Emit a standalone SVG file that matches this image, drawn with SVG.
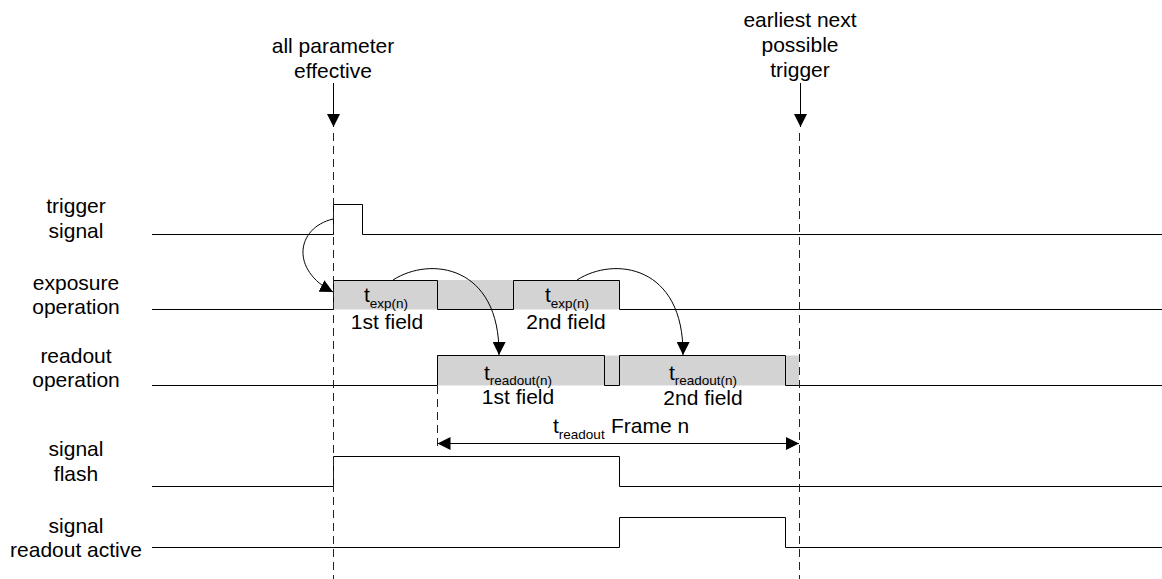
<svg xmlns="http://www.w3.org/2000/svg" width="1162" height="579" viewBox="0 0 1162 579">
<style>
text{font-family:"Liberation Sans",Arial,sans-serif;font-size:21px;fill:#000}
.lbl{text-anchor:middle}
.sub{font-size:13.5px}
.sig{fill:none;stroke:#000;stroke-width:1}
.dash{fill:none;stroke:#222;stroke-width:1;stroke-dasharray:8,5}
.arr{fill:none;stroke:#000;stroke-width:1}
.gray{fill:#d3d3d3;stroke:none}
</style>
<defs>
<marker id="ah" markerWidth="13" markerHeight="13" refX="13" refY="6.5" orient="auto" markerUnits="userSpaceOnUse">
<path d="M0,0 L13,6.5 L0,13 Z" fill="#000"/>
</marker>
<marker id="ahs" markerWidth="13" markerHeight="13" refX="0" refY="6.5" orient="auto" markerUnits="userSpaceOnUse">
<path d="M13,0 L0,6.5 L13,13 Z" fill="#000"/>
</marker>
</defs>

<g id="labels">
<text class="lbl" x="76" y="213">trigger</text>
<text class="lbl" x="76" y="238">signal</text>
<text class="lbl" x="76" y="290">exposure</text>
<text class="lbl" x="76" y="314">operation</text>
<text class="lbl" x="76" y="363">readout</text>
<text class="lbl" x="76" y="387">operation</text>
<text class="lbl" x="76" y="456">signal</text>
<text class="lbl" x="76" y="481">flash</text>
<text class="lbl" x="76" y="533">signal</text>
<text class="lbl" x="76" y="557">readout active</text>
</g>

<g id="top-all-parameter">
<text class="lbl" x="333" y="53">all parameter</text>
<text class="lbl" x="333" y="78">effective</text>
</g>
<g id="top-earliest">
<text class="lbl" x="800" y="27">earliest next</text>
<text class="lbl" x="800" y="52">possible</text>
<text class="lbl" x="800" y="77">trigger</text>
</g>

<g id="fills">
<rect class="gray" x="333" y="280" width="286" height="29.5"/>
<rect class="gray" x="437" y="355.5" width="362" height="30"/>
</g>

<g id="signals">
<path id="trigger" class="sig" d="M152,234.5 H333.5 V204.5 H362.5 V234.5 H1162"/>
<path id="exposure" class="sig" d="M152,309.5 H333.5 V280.5 H437.5 V309.5 H513.5 V280.5 H619.5 V309.5 H1162"/>
<path id="readout" class="sig" d="M152,385.5 H437.5 V355.5 H604.5 V385.5 H619.5 V355.5 H785.5 V385.5 H1162"/>
<path id="flash" class="sig" d="M152,486.5 H333.5 V456.5 H619.5 V486.5 H1162"/>
<path id="readout-active" class="sig" d="M152,547.5 H619.5 V517.5 H785.5 V547.5 H1162"/>
</g>

<g id="field-labels">
<text class="lbl" x="386" y="302">t<tspan class="sub" dy="6">exp(n)</tspan></text>
<text class="lbl" x="387" y="329">1st field</text>
<text class="lbl" x="567" y="302">t<tspan class="sub" dy="6">exp(n)</tspan></text>
<text class="lbl" x="566" y="329">2nd field</text>
<text class="lbl" x="518" y="380">t<tspan class="sub" dy="5">readout(n)</tspan></text>
<text class="lbl" x="518" y="404">1st field</text>
<text class="lbl" x="703" y="380">t<tspan class="sub" dy="5">readout(n)</tspan></text>
<text class="lbl" x="703" y="405">2nd field</text>
<text x="553" y="433">t<tspan class="sub" dy="6">readout</tspan></text>
<text x="611" y="433">Frame n</text>
</g>

<g id="connectors">
<line class="dash" x1="333.5" y1="133" x2="333.5" y2="579"/>
<line class="dash" x1="799.5" y1="133" x2="799.5" y2="579"/>
<line class="dash" x1="437.5" y1="386" x2="437.5" y2="450"/>
<line class="arr" x1="333.5" y1="83" x2="333.5" y2="127" marker-end="url(#ah)"/>
<line class="arr" x1="800.5" y1="83" x2="800.5" y2="127" marker-end="url(#ah)"/>
<line class="arr" x1="437.5" y1="443.5" x2="799" y2="443.5" marker-start="url(#ahs)" marker-end="url(#ah)"/>
<path class="arr" d="M333,219 C296,228 290,270 333,292" marker-end="url(#ah)"/>
<path class="arr" d="M393,280 C430,256 500,265 499,355" marker-end="url(#ah)"/>
<path class="arr" d="M577,280 C614,256 684,265 683,355" marker-end="url(#ah)"/>
</g>
</svg>
